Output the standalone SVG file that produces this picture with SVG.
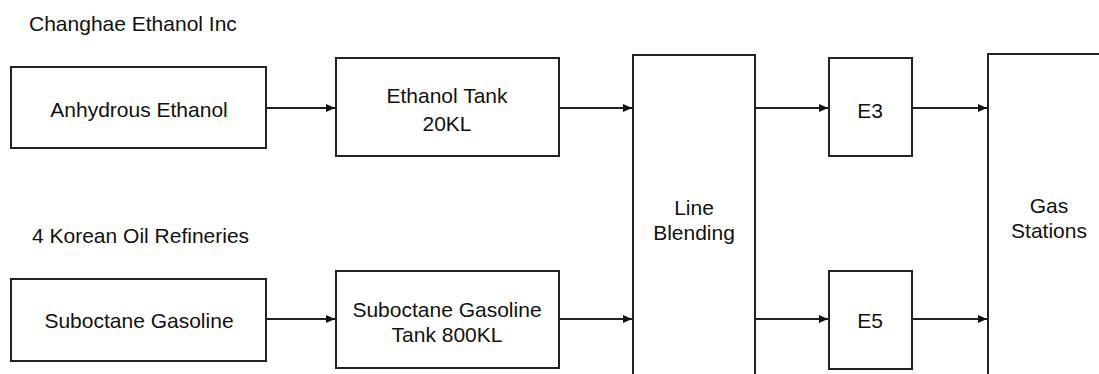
<svg xmlns="http://www.w3.org/2000/svg" width="1099" height="374" viewBox="0 0 1099 374">
<style>
.box{fill:#fff;stroke:#222;stroke-width:2}
.t{font-family:"Liberation Sans",Arial,sans-serif;font-size:21px;fill:#111;text-anchor:middle}
.lbl{font-family:"Liberation Sans",Arial,sans-serif;font-size:21px;fill:#111}
.c{stroke:#222;stroke-width:2;fill:none;marker-end:url(#ah)}
</style>
<defs>
<marker id="ah" markerWidth="9" markerHeight="8" refX="9" refY="4" orient="auto" markerUnits="userSpaceOnUse">
<path d="M0,0 L9,4 L0,8 Z" fill="#111"/>
</marker>
</defs>
<rect width="1099" height="374" fill="#fff"/>
<text class="lbl" x="29" y="31">Changhae Ethanol Inc</text>
<text class="lbl" x="32" y="243">4 Korean Oil Refineries</text>
<g id="anhydrous">
<rect class="box" x="11" y="67" width="255" height="81"/>
<text class="t" x="139" y="117">Anhydrous Ethanol</text>
</g>
<g id="ethanol-tank">
<rect class="box" x="336" y="58" width="223" height="98"/>
<text class="t" x="447" y="103">Ethanol Tank</text>
<text class="t" x="447" y="131">20KL</text>
</g>
<g id="suboctane">
<rect class="box" x="11" y="279" width="255" height="82"/>
<text class="t" x="139" y="328">Suboctane Gasoline</text>
</g>
<g id="suboctane-tank">
<rect class="box" x="336" y="271" width="223" height="97"/>
<text class="t" x="447" y="317">Suboctane Gasoline</text>
<text class="t" x="447" y="342">Tank 800KL</text>
</g>
<g id="line-blending">
<rect class="box" x="633" y="55" width="122" height="330"/>
<text class="t" x="694" y="215">Line</text>
<text class="t" x="694" y="240">Blending</text>
</g>
<g id="e3">
<rect class="box" x="829" y="58" width="83" height="98"/>
<text class="t" x="870" y="118">E3</text>
</g>
<g id="e5">
<rect class="box" x="829" y="271" width="83" height="98"/>
<text class="t" x="870" y="328">E5</text>
</g>
<g id="gas-stations">
<rect class="box" x="988" y="54" width="130" height="330"/>
<text class="t" x="1049" y="213">Gas</text>
<text class="t" x="1049" y="238">Stations</text>
</g>
<g id="connectors">
<line class="c" x1="267" y1="108" x2="335" y2="108"/>
<line class="c" x1="560" y1="108" x2="632" y2="108"/>
<line class="c" x1="267" y1="319" x2="335" y2="319"/>
<line class="c" x1="560" y1="319" x2="632" y2="319"/>
<line class="c" x1="756" y1="108" x2="828" y2="108"/>
<line class="c" x1="756" y1="319" x2="828" y2="319"/>
<line class="c" x1="913" y1="108" x2="987" y2="108"/>
<line class="c" x1="913" y1="319" x2="987" y2="319"/>
</g>
</svg>
